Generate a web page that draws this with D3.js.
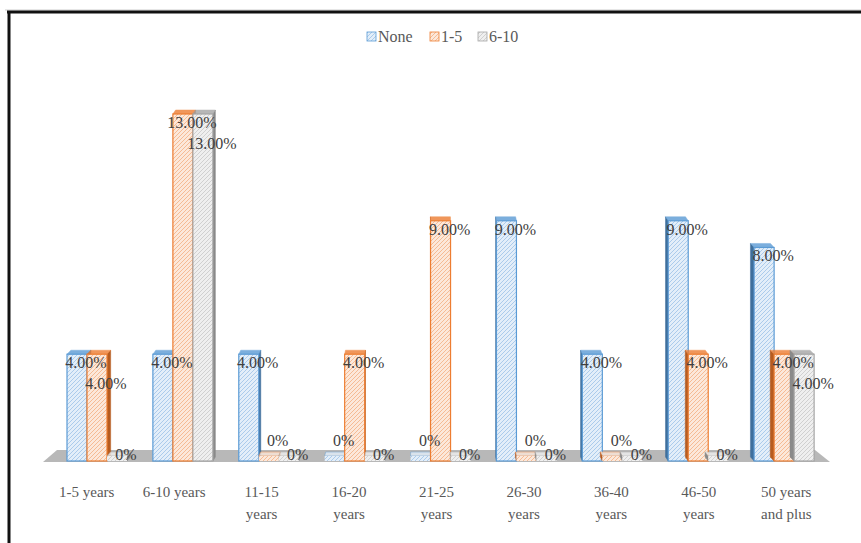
<!DOCTYPE html>
<html>
<head>
<meta charset="utf-8">
<script src="https://cdn.jsdelivr.net/npm/d3@7"></script>
<style>
  body { margin: 0; background: #fff; }
  svg { display: block; }
  text { font-family: "Liberation Serif", "DejaVu Serif", serif; fill: #595959; }
</style>
</head>
<body>
<svg id="chart" width="861" height="543"></svg>
<script>
const categories = ['1-5 years', '6-10 years', '11-15 years', '16-20 years', '21-25 years',
  '26-30 years', '36-40 years', '46-50 years', '50 years and plus'];
const seriesNames = ['None', '1-5', '6-10'];
const noneValues = [4, 4, 4, 0, 0, 9, 4, 9, 8];
const oneToFiveValues = [4, 13, 0, 4, 9, 0, 0, 4, 4];
const sixToTenValues = [0, 13, 0, 0, 0, 0, 0, 0, 4];
const tickLines = [['1-5 years'], ['6-10 years'], ['11-15', 'years'], ['16-20', 'years'], ['21-25', 'years'],
  ['26-30', 'years'], ['36-40', 'years'], ['46-50', 'years'], ['50 years', 'and plus']];

(function(){
  const svg = d3.select('#chart');
  const W = 861, H = 543;
  const colors = [
    {line:'#5b9bd5', fill:'#e3eef9', dark:'#3f6f9c'},
    {line:'#ed7d31', fill:'#fce8da', dark:'#b65c20'},
    {line:'#a5a5a5', fill:'#efefef', dark:'#8a8a8a'}
  ];
  const series = [noneValues, oneToFiveValues, sixToTenValues];

  // hatch patterns
  const defs = svg.append('defs');
  colors.forEach((c,i)=>{
    const p = defs.append('pattern').attr('id','hatch'+i)
      .attr('patternUnits','userSpaceOnUse').attr('width',4).attr('height',4);
    p.append('rect').attr('width',4).attr('height',4).attr('fill',c.fill);
    p.append('path').attr('d','M-1,1 l2,-2 M0,4 l4,-4 M3,5 l2,-2')
      .attr('stroke',c.line).attr('stroke-width',0.7).attr('opacity',0.6);
  });

  // frame
  svg.append('line').attr('x1',5).attr('x2',W).attr('y1',10).attr('y2',10).attr('stroke','#ccc').attr('stroke-width',1);
  svg.append('line').attr('x1',7).attr('x2',W).attr('y1',12).attr('y2',12).attr('stroke','#111').attr('stroke-width',3);
  svg.append('line').attr('x1',9).attr('x2',9).attr('y1',12).attr('y2',H).attr('stroke','#111').attr('stroke-width',3);

  // scales
  const xLab = d3.scaleBand().domain(categories).range([43, 830]);
  const xBar = d3.scaleBand().domain(categories).range([54, 827]);
  const xSub = d3.scaleBand().domain(seriesNames).range([13, 73]);
  const y = d3.scaleLinear().domain([0, 13]).range([461, 114]);

  // floor
  svg.append('polygon')
    .attr('points', [[43,462],[830,462],[815,450],[57,450]].map(p=>p.join(',')).join(' '))
    .attr('fill','#b8b8b8');

  const g = svg.append('g');
  const bars = [];
  series.forEach((vals,si)=>{
    vals.forEach((v,ci)=>{
      bars.push({si, ci, v, cat: categories[ci]});
    });
  });

  bars.forEach(d=>{
    const c = colors[d.si];
    const x0 = xBar(d.cat) + xSub(seriesNames[d.si]);
    const w = xSub.bandwidth();
    const top = d.v > 0 ? y(d.v) : y(0) - 5;
    const bot = y(0);
    const dx = (430 - (x0 + w/2)) * 0.011;
    const dy = 4;
    // side face
    const sx = dx > 0 ? x0 + w : x0;
    g.append('polygon')
      .attr('points', [[sx,top],[sx+dx,top-dy],[sx+dx,bot-dy],[sx,bot]].map(p=>p.join(',')).join(' '))
      .attr('fill', c.dark).attr('stroke', c.dark).attr('stroke-width',0.5);
    // top face
    g.append('polygon')
      .attr('points', [[x0,top],[x0+w,top],[x0+w+dx,top-dy],[x0+dx,top-dy]].map(p=>p.join(',')).join(' '))
      .attr('fill', d.v > 0 ? c.line : c.fill).attr('stroke', c.line).attr('stroke-width',0.5).attr('opacity',0.8);
    // front face
    g.append('rect')
      .attr('x', x0).attr('y', top).attr('width', w).attr('height', bot - top)
      .attr('fill', 'url(#hatch'+d.si+')')
      .attr('stroke', c.line).attr('stroke-width', d.v > 0 ? 1.2 : 0);
  });

  // data labels; non-zero ones are pushed down when they would overlap one another in a group
  const lab = svg.append('g').style('font-size','16px');
  const placed = {};
  bars.forEach(d=>{
    const x0 = xBar(d.cat) + xSub(seriesNames[d.si]);
    const w = xSub.bandwidth();
    let ty, tx = x0 + w/2 + 9;
    if (d.v > 0) ty = y(d.v) + 14;
    else ty = d.si === 2 ? 460 : 446;
    const t = lab.append('text').attr('x', tx).attr('y', ty).attr('text-anchor','middle')
      .style('fill','#404040')
      .text(d.v > 0 ? d3.format('.2f')(d.v) + '%' : '0%');
    if (d.v === 0) return;
    const list = placed[d.ci] || (placed[d.ci] = []);
    let bb = t.node().getBBox();
    const hit = b => !(bb.x > b.x + b.width || bb.x + bb.width < b.x || bb.y > b.y + b.height || bb.y + bb.height < b.y);
    while (list.some(hit)) {
      ty += 21;
      t.attr('y', ty);
      bb = t.node().getBBox();
    }
    list.push(bb);
  });

  // category labels
  const ax = svg.append('g').style('font-size','15px');
  categories.forEach((cat,i)=>{
    const cx = xLab(cat) + xLab.bandwidth()/2;
    tickLines[i].forEach((t,j)=>{
      ax.append('text').attr('x', cx).attr('y', 497 + j*22).attr('text-anchor','middle').text(t);
    });
  });

  // legend
  const lg = svg.append('g').style('font-size','16px');
  const legX = [367, 430, 478];
  seriesNames.forEach((s,i)=>{
    lg.append('rect').attr('x', legX[i]).attr('y', 32).attr('width', 9).attr('height', 9)
      .attr('fill','url(#hatch'+i+')').attr('stroke', colors[i].line).attr('stroke-width',0.8);
    lg.append('text').attr('x', legX[i] + 11).attr('y', 42).text(s);
  });
})();
</script>
</body>
</html>
